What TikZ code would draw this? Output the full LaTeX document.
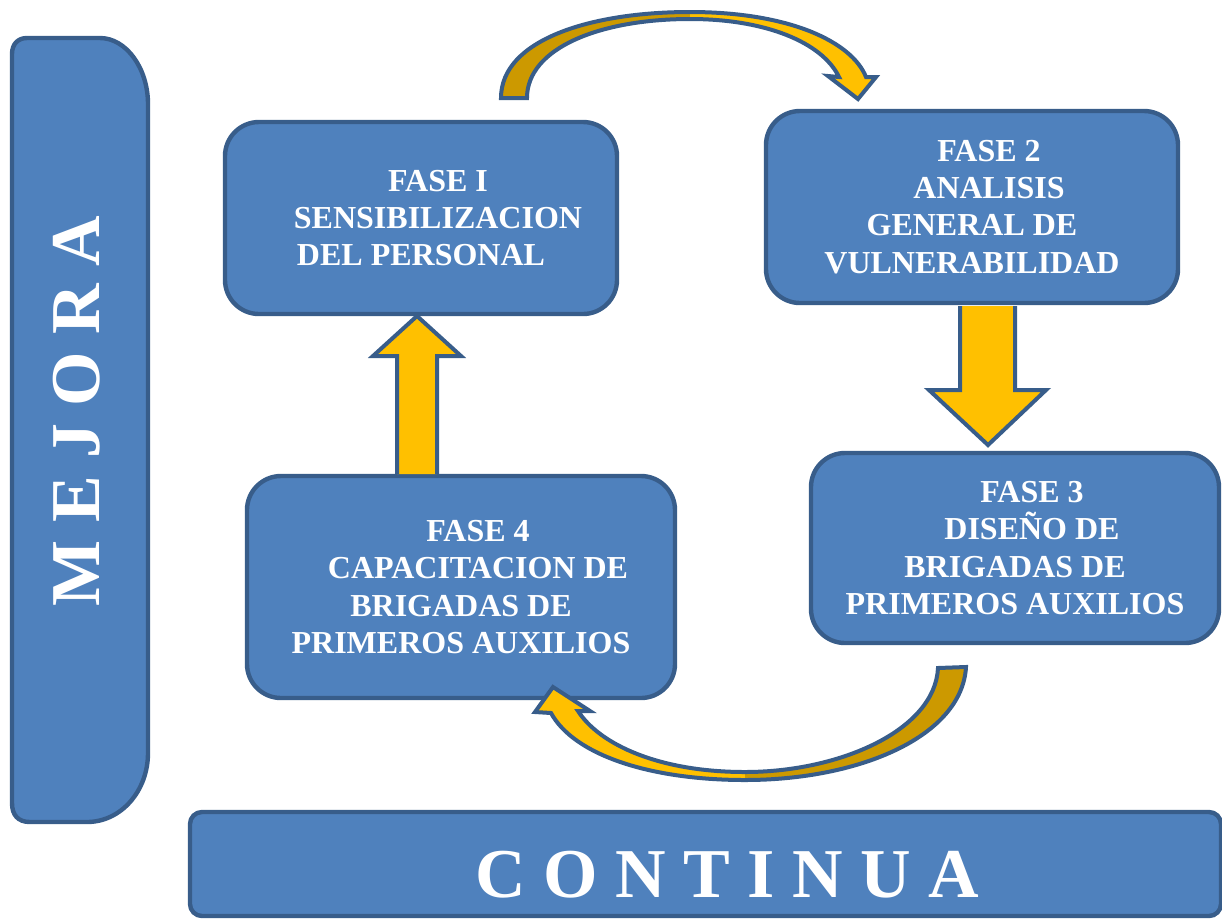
\documentclass[tikz,border=0pt]{standalone}
\usepackage{fontspec}
\setmainfont{Liberation Serif}
\definecolor{fasefill}{RGB}{79,129,189}
\definecolor{faseline}{RGB}{56,93,138}
\definecolor{flecha}{RGB}{255,192,0}
\definecolor{flechaosc}{RGB}{204,153,0}
\tikzset{
  fase/.style={draw=faseline, fill=fasefill, line width=2.2pt, rounded corners=17pt,
    text=white, align=center, inner sep=0pt,
    font=\bfseries\fontsize{16}{18.6}\selectfont},
  barra/.style={draw=faseline, fill=fasefill, line width=2.2pt},
  rotulo/.style={text=white, font=\bfseries\fontsize{35}{40}\selectfont, inner sep=0pt},
  flechabloque/.style={draw=faseline, fill=flecha, line width=2pt, line join=miter}
}

\begin{document}
\begin{tikzpicture}[x=0.5pt,y=-0.5pt]
  \clip (0,0) rectangle (1222,918);
  \draw[barra] (27,38) -- (100,38) .. controls (126,38) and (148,68) .. (148,104)
    -- (148,753) .. controls (148,791) and (121,822) .. (87,822)
    -- (30,822) .. controls (18,822) and (12,815) .. (12,803)
    -- (12,54) .. controls (12,44) and (18,38) .. (27,38) -- cycle;
  \node[rotulo, rotate=90, anchor=base] (mejora) at (99,411) {M E J O R A};
  \draw[barra, rounded corners=6pt] (190,812) rectangle (1221,916);
  \node[rotulo, anchor=base] (continua) at (727,897) {C O N T I N U A};

  \node[fase, minimum width=196pt, minimum height=96pt] (fase1) at (421,218)
    {\hspace*{17pt}FASE I\\\hspace*{17pt}SENSIBILIZACION\\DEL PERSONAL};
  \node[fase, minimum width=206pt, minimum height=96pt] (fase2) at (972,207)
    {\hspace*{17pt}FASE 2\\\hspace*{17pt}ANALISIS\\GENERAL DE\\VULNERABILIDAD};
  \node[fase, minimum width=204pt, minimum height=95pt] (fase3) at (1015,548)
    {\hspace*{17pt}FASE 3\\\hspace*{17pt}DISEÑO DE\\BRIGADAS DE\\PRIMEROS AUXILIOS};
  \node[fase, minimum width=214pt, minimum height=111pt] (fase4) at (461,587)
    {\hspace*{17pt}FASE 4\\\hspace*{17pt}CAPACITACION DE\\BRIGADAS DE\\PRIMEROS AUXILIOS};

  \draw[flechabloque] (397,474) -- (397,356) -- (373,356) -- (417,316)
    -- (461,356) -- (437,356) -- (437,474);
  \draw[flechabloque] (960,306) -- (960,390) -- (929,390) -- (988,445)
    -- (1046,390) -- (1015,390) -- (1015,306);

  \draw[flechabloque, path picture={\fill[flechaosc] (0,0) rectangle (690,120);}]
    (501,98) .. controls (501,40) and (590,12) .. (690,12)
    .. controls (790,12) and (852,42) .. (866,77) -- (876,77) -- (858,99)
    -- (828,76) -- (839,77) .. controls (822,42) and (765,19) .. (690,19)
    .. controls (600,19) and (527,48) .. (527,98) -- cycle;
  \draw[flechabloque, path picture={\fill[flechaosc] (745,650) rectangle (1000,800);}]
    (966,667) .. controls (962,736) and (860,780) .. (745,780)
    .. controls (650,780) and (574,755) .. (551,713) -- (535,712) -- (553,687)
    -- (590,711) -- (578,711) .. controls (600,745) and (660,772) .. (745,772)
    .. controls (840,772) and (935,730) .. (938,668) -- cycle;
\end{tikzpicture}
\end{document}
